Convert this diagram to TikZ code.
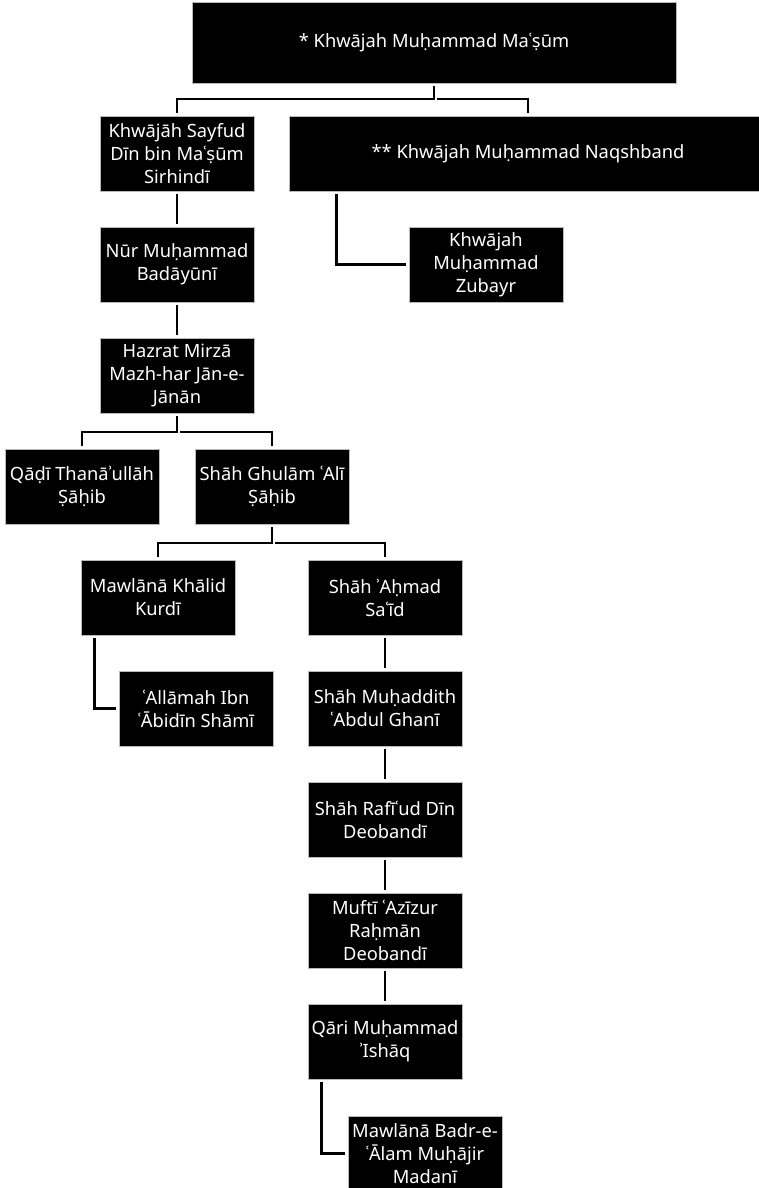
\documentclass[tikz,border=0pt]{standalone}
\usepackage{fontspec}
\setmainfont{Noto Sans}
\usetikzlibrary{calc}
\tikzset{
  box/.style={fill=black, draw=gray!55, line width=0.8pt, text=white, align=center,
    inner sep=0pt, minimum width=154pt, minimum height=75pt,
    font=\fontsize{18.3}{22.8}\selectfont},
  link/.style={line width=2.4pt, draw=black, shorten <=3pt, shorten >=3pt},
}
\begin{document}
\begin{tikzpicture}[x=1pt,y=-1pt]
\useasboundingbox (0,0) rectangle (759,1188);
% row y centres: 153.5 + 111*k
\node[box, minimum width=484pt, minimum height=81pt] (top) at (434,42.5) {* Khwājah Muḥammad Maʿṣūm};
\node[box] (sayfud) at (177,153.5) {Khwājāh Sayfud\\Dīn bin Maʿṣūm\\Sirhindī};
\node[box, minimum width=478pt] (naqsh) at (528,153.5) {** Khwājah Muḥammad Naqshband};
\node[box] (nur) at (177,264.5) {Nūr Muḥammad\\Badāyūnī};
\node[box] (zubayr) at (486,264.5) {Khwājah\\Muḥammad\\Zubayr};
\node[box] (hazrat) at (177,375.5) {Hazrat Mirzā\\Mazh-har Jān-e-\\Jānān};
\node[box] (qadi) at (82,486.5) {Qāḍī Thanāʾullāh\\Ṣāḥib};
\node[box] (ghulam) at (272,486.5) {Shāh Ghulām ʿAlī\\Ṣāḥib};
\node[box] (khalid) at (158,597.5) {Mawlānā Khālid\\Kurdī};
\node[box] (ahmad) at (385,597.5) {Shāh ʾAḥmad\\Saʿīd};
\node[box] (allamah) at (196,708.5) {ʿAllāmah Ibn\\ʿĀbidīn Shāmī};
\node[box] (muhaddith) at (385,708.5) {Shāh Muḥaddith\\ʿAbdul Ghanī};
\node[box] (rafi) at (385,819.5) {Shāh Rafīʿud Dīn\\Deobandī};
\node[box] (mufti) at (385,930.5) {Muftī ʿAzīzur\\Raḥmān\\Deobandī};
\node[box] (qari) at (385,1041.5) {Qāri Muḥammad\\ʾIshāq};
\node[box] (badr) at (425,1153.5) {Mawlānā Badr-e-\\ʿĀlam Muḥājir\\Madanī};
% tree connectors
\coordinate (j1) at ($(top.south)+(0,15.5)$);
\draw[link] (top.south) -- (j1) -| (sayfud.north);
\draw[link] (j1) -| (naqsh.north);
\coordinate (j2) at ($(hazrat.south)+(0,18.5)$);
\draw[link] (hazrat.south) -- (j2) -| (qadi.north);
\draw[link] (j2) -| (ghulam.north);
\coordinate (j3) at ($(ghulam.south)+(0,18.5)$);
\draw[link] (ghulam.south) -- (j3) -| (khalid.north);
\draw[link] (j3) -| (ahmad.north);
% straight links
\draw[link] (sayfud) -- (nur);
\draw[link] (nur) -- (hazrat);
\draw[link] (ahmad) -- (muhaddith);
\draw[link] (muhaddith) -- (rafi);
\draw[link] (rafi) -- (mufti);
\draw[link] (mufti) -- (qari);
% elbow links
\draw[link] ($(naqsh.south west)+(48,0)$) |- (zubayr.west);
\draw[link] ($(khalid.south west)+(14,0)$) |- (allamah.west);
\draw[link] ($(qari.south west)+(14,0)$) |- (badr.west);
\end{tikzpicture}
\end{document}
